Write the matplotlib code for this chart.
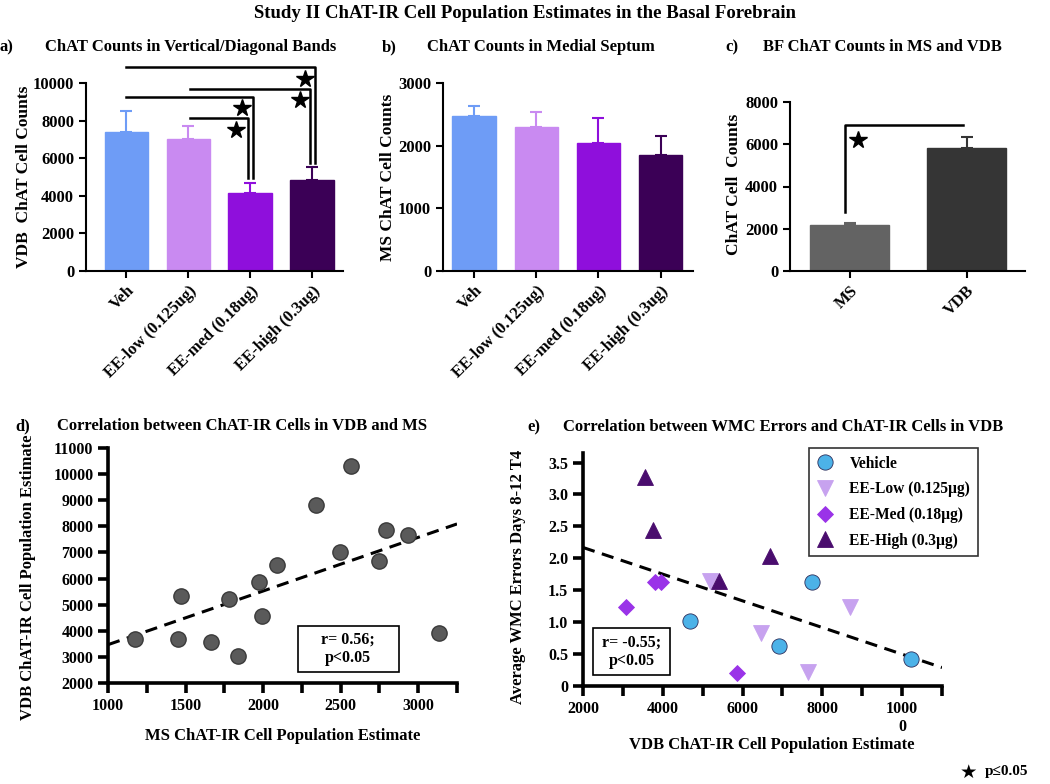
import numpy as np
import matplotlib
matplotlib.use('Agg')
import matplotlib.pyplot as plt
from matplotlib.patches import Rectangle

plt.rcParams['font.family'] = ['Liberation Serif', 'DejaVu Sans']
plt.rcParams['font.weight'] = 'bold'
plt.rcParams['axes.labelweight'] = 'bold'

# ---- data ----
groups = ['Veh', 'EE-low (0.125ug)', 'EE-med (0.18ug)', 'EE-high (0.3ug)']
group_colors = ['#6e9cf6', '#c98af1', '#8f0fdc', '#3b0056']

vdb_mean = [7400, 7000, 4150, 4850]
vdb_err = [1100, 700, 550, 700]

ms_mean = [2480, 2305, 2050, 1855]
ms_err = [155, 235, 395, 295]

region_names = ['MS', 'VDB']
region_mean = [2165, 5840]
region_err = [125, 490]
region_colors = ['#636363', '#353535']

# significance brackets for panel a: (x_start, x_end, top, bottom)
sig_a = [(0.0, 3.05, 10830, 5730),
         (1.03, 2.96, 9700, 5730),
         (0.0, 2.05, 9235, 4930),
         (1.03, 1.96, 8115, 4930)]
stars_a_x = [1.87, 1.78, 2.88, 2.80]
stars_a_y = [8665, 7510, 10215, 9075]

# panel d scatter
ms_est = [1173, 1450, 1471, 1664, 1778, 1837, 1973, 1992, 2088, 2338,
          2496, 2565, 2747, 2795, 2931, 3136]
vdb_est = [3700, 3700, 5345, 3570, 5215, 3050, 5880, 4555, 6530, 8830,
           7005, 10300, 6660, 7845, 7655, 3915]
fit_d = (2.055, 1413)

# panel e scatter
e_groups = ['Vehicle', 'EE-Low (0.125\u00b5g)', 'EE-Med (0.18\u00b5g)', 'EE-High (0.3\u00b5g)']
e_vdb = [[4672, 6916, 7748, 10235],
         [5193, 6471, 7647, 8706],
         [3084, 3807, 3950, 5849],
         [3546, 3765, 5420, 6689]]
e_err = [[1.02, 0.63, 1.63, 0.42],
         [1.64, 0.83, 0.22, 1.23],
         [1.23, 1.63, 1.63, 0.21],
         [3.27, 2.44, 1.64, 2.04]]
e_markers = ['o', 'v', 'D', '^']
e_colors = ['#4cb2e8', '#c7a2ef', '#9a33e8', '#4a0d6e']
e_sizes = [11, 11, 8, 11]
fit_e = (-0.000209, 2.588)

W, H = 1050, 784
fig = plt.figure(figsize=(10.5, 7.84), dpi=100)


def box(l, r, b, t):
    return [l / W, 1 - b / H, (r - l) / W, (b - t) / H]


def bar_panel(ax, names, means, errs, colors, width):
    x = np.arange(len(names))
    ax.bar(x, means, width=width, color=colors, edgecolor=colors, zorder=2)
    for xi, m, e, c in zip(x, means, errs, colors):
        ax.errorbar(xi, m, yerr=[[0], [e]], color=c, capsize=4, elinewidth=1.5,
                    capthick=1.5, zorder=1)
    ax.set_xticks(x)
    ax.set_xticklabels(names, rotation=45, ha='right', rotation_mode='anchor',
                       fontsize=11.5)
    for s in ['top', 'right']:
        ax.spines[s].set_visible(False)
    for s in ['left', 'bottom']:
        ax.spines[s].set_linewidth(1.5)
    ax.tick_params(width=1.5, length=5, labelsize=12)


# a) VDB counts
ax_a = fig.add_axes(box(86, 343, 271, 83))
bar_panel(ax_a, groups, vdb_mean, vdb_err, group_colors, 0.7)
ax_a.set_xlim(-0.65, 3.5)
ax_a.set_ylim(0, 10000)
ax_a.set_yticks(range(0, 10001, 2000))
ax_a.set_ylabel('VDB  ChAT Cell Counts', fontsize=12.5)
ax_a.yaxis.set_label_coords(-0.21, 0.5)
for x0, x1, top, bot in sig_a:
    ax_a.plot([x0, x1, x1], [top, top, bot], color='black', lw=1.8, clip_on=False)
ax_a.plot(stars_a_x, stars_a_y, '*', color='black', ms=13, clip_on=False)

# b) MS counts
ax_b = fig.add_axes(box(443, 693, 271, 83))
bar_panel(ax_b, groups, ms_mean, ms_err, group_colors, 0.7)
ax_b.set_xlim(-0.5, 3.52)
ax_b.set_ylim(0, 3000)
ax_b.set_yticks(range(0, 3001, 1000))
ax_b.set_ylabel('MS ChAT Cell Counts', fontsize=12.5)
ax_b.yaxis.set_label_coords(-0.19, 0.5)

# c) MS vs VDB
ax_c = fig.add_axes(box(790, 1025, 271, 102))
bar_panel(ax_c, region_names, region_mean, region_err, region_colors, 0.68)
ax_c.set_xlim(-0.51, 1.5)
ax_c.set_ylim(0, 8000)
ax_c.set_yticks(range(0, 8001, 2000))
ax_c.set_ylabel('ChAT Cell  Counts', fontsize=12.5)
ax_c.yaxis.set_label_coords(-0.205, 0.515)
ax_c.plot([-0.04, -0.04, 0.97], [2800, 6930, 6930], color='black', lw=1.8)
ax_c.plot([0.07], [6220], '*', color='black', ms=13)


def thick(ax):
    for s in ['top', 'right']:
        ax.spines[s].set_visible(False)
    for s in ['left', 'bottom']:
        ax.spines[s].set_linewidth(2.6)
    ax.tick_params(which='both', width=2.6, length=7, labelsize=11.5)


# d) correlation VDB vs MS
ax_d = fig.add_axes(box(108, 457, 683, 448))
ax_d.plot(ms_est, vdb_est, 'o', color='#5a5a5a', mec='#3a3a3a', ms=11, zorder=3)
xs = np.array([1000, 3250])
ax_d.plot(xs, fit_d[0] * xs + fit_d[1], '--', color='black', lw=2.2, dashes=(4, 2.5))
ax_d.set_xlim(1000, 3250)
ax_d.set_ylim(2000, 11000)
ax_d.set_xticks(range(1000, 3001, 500))
ax_d.set_xticks(range(1250, 3251, 500), minor=True)
ax_d.set_yticks(range(2000, 11001, 1000))
thick(ax_d)
ax_d.set_xlabel('MS ChAT-IR Cell Population Estimate', fontsize=12)
ax_d.xaxis.set_label_coords(0.5, -0.19)
ax_d.set_ylabel('VDB ChAT-IR Cell Population Estimate', fontsize=12)
ax_d.yaxis.set_label_coords(-0.206, 0.45)
ax_d.add_patch(Rectangle((0.544, 0.047), 0.289, 0.196, transform=ax_d.transAxes,
                         fill=False, ec='black', lw=1.2))
ax_d.text(0.688, 0.145, 'r= 0.56;\np<0.05', transform=ax_d.transAxes,
          ha='center', va='center', fontsize=11.5)

# e) correlation WMC errors vs VDB
ax_e = fig.add_axes(box(583, 942, 686, 453))
for g, xv, yv, m, c, s in zip(e_groups, e_vdb, e_err, e_markers, e_colors, e_sizes):
    ax_e.plot(xv, yv, m, color=c, mec='#2c2c5a' if m == 'o' else c, mew=0.6,
              ms=s, label=g, zorder=3)
xs = np.array([2000, 11000])
ax_e.plot(xs, fit_e[0] * xs + fit_e[1], '--', color='black', lw=2.2, dashes=(4, 2.5))
ax_e.set_xlim(2000, 11000)
ax_e.set_ylim(0, 3.65)
ax_e.set_xticks(range(2000, 10001, 2000))
ax_e.set_xticklabels(['2000', '4000', '6000', '8000', '1000\n0'])
ax_e.set_xticks(range(3000, 11001, 2000), minor=True)
ax_e.set_yticks(np.arange(0, 3.51, 0.5))
ax_e.set_yticklabels(['0', '0.5', '1.0', '1.5', '2.0', '2.5', '3.0', '3.5'])
thick(ax_e)
ax_e.set_xlabel('VDB ChAT-IR Cell Population Estimate', fontsize=12)
ax_e.xaxis.set_label_coords(0.526, -0.22)
ax_e.set_ylabel('Average WMC Errors Days 8-12 T4', fontsize=12)
ax_e.yaxis.set_label_coords(-0.16, 0.468)
ax_e.add_patch(Rectangle((0.028, 0.047), 0.214, 0.202, transform=ax_e.transAxes,
                         fill=False, ec='black', lw=1.2))
ax_e.text(0.135, 0.148, 'r= -0.55;\np<0.05', transform=ax_e.transAxes,
          ha='center', va='center', fontsize=11.5)
leg = ax_e.legend(loc='upper left', bbox_to_anchor=(809 / W, 1 - 448 / H),
                  bbox_transform=fig.transFigure, frameon=True, fancybox=False,
                  edgecolor='black', fontsize=11.2, handlelength=1.0,
                  handletextpad=1.1, borderpad=0.5, labelspacing=0.62,
                  borderaxespad=0)
leg.get_frame().set_linewidth(1.2)

# titles
fig.text(525 / W, 1 - 14 / H, 'Study II ChAT-IR Cell Population Estimates in the Basal Forebrain',
         ha='center', va='center', fontsize=13.5)
for lab, lx, tx, ty, txt in [('a)', 0, 45, 47, 'ChAT Counts in Vertical/Diagonal Bands'),
                             ('b)', 382, 427, 47, 'ChAT Counts in Medial Septum'),
                             ('c)', 725, 763, 47, 'BF ChAT Counts in MS and VDB'),
                             ('d)', 15, 57, 426, 'Correlation between ChAT-IR Cells in VDB and MS'),
                             ('e)', 527, 563, 427, 'Correlation between WMC Errors and ChAT-IR Cells in VDB')]:
    fig.text(lx / W, 1 - ty / H, lab, ha='left', va='center', fontsize=12)
    fig.text(tx / W, 1 - ty / H, txt, ha='left', va='center', fontsize=12)

fig.text(960 / W, 1 - 772 / H, '\u2605', ha='left', va='center', fontsize=14,
         family=['DejaVu Sans'])
fig.text(985 / W, 1 - 772 / H, 'p\u22640.05', ha='left', va='center', fontsize=11)

fig.savefig('out.png', dpi=100)
